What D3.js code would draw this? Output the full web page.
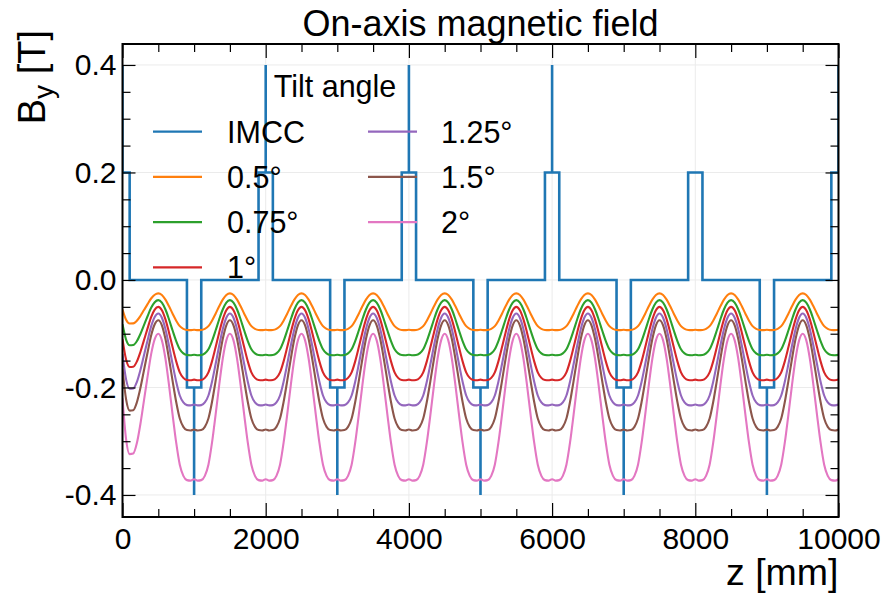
<!DOCTYPE html>
<html><head><meta charset="utf-8">
<script src="https://cdn.jsdelivr.net/npm/d3@7"></script>
<style>body{margin:0;background:#fff} text{font-family:"Liberation Sans",Arial,Helvetica,sans-serif;fill:#000}</style>
</head><body><svg id="c" width="887" height="596"></svg>
<script>
const title = "On-axis magnetic field";
const xLabel = "z [mm]";
const legendTitle = "Tilt angle";
const seriesNames = ["IMCC","0.5°","0.75°","1°","1.25°","1.5°","2°"];
const colors = ["#1f77b4","#ff7f0e","#2ca02c","#d62728","#9467bd","#8c564b","#e377c2"];
const xTicks = [0,2000,4000,6000,8000,10000];
const yTicks = [-0.4,-0.2,0.0,0.2,0.4];

// IMCC step profile (breakpoints)
const imccZ = [0,0,100,100,900,900,1000,1000,1000,1100,1100,1900,1900,2000,2000,2000,2100,2100,2900,2900,3000,3000,3000,3100,3100,3900,3900,4000,4000,4000,4100,4100,4900,4900,5000,5000,5000,5100,5100,5900,5900,6000,6000,6000,6100,6100,6900,6900,7000,7000,7000,7100,7100,7900,7900,8100,8100,8900,8900,9000,9000,9000,9100,9100,9900,9900,10000,10000];
const imccB = [0.4,0.2,0.2,0,0,-0.2,-0.2,-0.4,-0.2,-0.2,0,0,0.2,0.2,0.4,0.2,0.2,0,0,-0.2,-0.2,-0.4,-0.2,-0.2,0,0,0.2,0.2,0.4,0.2,0.2,0,0,-0.2,-0.2,-0.4,-0.2,-0.2,0,0,0.2,0.2,0.4,0.2,0.2,0,0,-0.2,-0.2,-0.4,-0.2,-0.2,0,0,0.2,0.2,0,0,-0.2,-0.2,-0.4,-0.2,-0.2,0,0,0.2,0.2,0.4];

// sample positions z = 0, 50, ..., 10000 mm
const zSamples = d3.range(0, 10001, 50);

const tilt050 = [
-0.0550,-0.0740,-0.0810,-0.0808,-0.0760,-0.0670,-0.0560,-0.0450,-0.0345,-0.0275,-0.0250,-0.0281,-0.0367,-0.0490,-0.0627,-0.0757,-0.0860,-0.0911,-0.0931,-0.0934,-0.0927,
-0.0934,-0.0931,-0.0911,-0.0860,-0.0757,-0.0627,-0.0490,-0.0367,-0.0281,-0.0250,-0.0281,-0.0367,-0.0490,-0.0627,-0.0757,-0.0860,-0.0911,-0.0931,-0.0934,-0.0927,
-0.0934,-0.0931,-0.0911,-0.0860,-0.0757,-0.0627,-0.0490,-0.0367,-0.0281,-0.0250,-0.0281,-0.0367,-0.0490,-0.0627,-0.0757,-0.0860,-0.0911,-0.0931,-0.0934,-0.0927,
-0.0934,-0.0931,-0.0911,-0.0860,-0.0757,-0.0627,-0.0490,-0.0367,-0.0281,-0.0250,-0.0281,-0.0367,-0.0490,-0.0627,-0.0757,-0.0860,-0.0911,-0.0931,-0.0934,-0.0927,
-0.0934,-0.0931,-0.0911,-0.0860,-0.0757,-0.0627,-0.0490,-0.0367,-0.0281,-0.0250,-0.0281,-0.0367,-0.0490,-0.0627,-0.0757,-0.0860,-0.0911,-0.0931,-0.0934,-0.0927,
-0.0934,-0.0931,-0.0911,-0.0860,-0.0757,-0.0627,-0.0490,-0.0367,-0.0281,-0.0250,-0.0281,-0.0367,-0.0490,-0.0627,-0.0757,-0.0860,-0.0911,-0.0931,-0.0934,-0.0927,
-0.0934,-0.0931,-0.0911,-0.0860,-0.0757,-0.0627,-0.0490,-0.0367,-0.0281,-0.0250,-0.0281,-0.0367,-0.0490,-0.0627,-0.0757,-0.0860,-0.0911,-0.0931,-0.0934,-0.0927,
-0.0934,-0.0931,-0.0911,-0.0860,-0.0757,-0.0627,-0.0490,-0.0367,-0.0281,-0.0250,-0.0281,-0.0367,-0.0490,-0.0627,-0.0757,-0.0860,-0.0911,-0.0931,-0.0934,-0.0927,
-0.0934,-0.0931,-0.0911,-0.0860,-0.0757,-0.0627,-0.0490,-0.0367,-0.0281,-0.0250,-0.0281,-0.0367,-0.0490,-0.0627,-0.0757,-0.0860,-0.0911,-0.0931,-0.0934,-0.0927,
-0.0934,-0.0931,-0.0911,-0.0860,-0.0757,-0.0627,-0.0490,-0.0367,-0.0281,-0.0250,-0.0281,-0.0367,-0.0490,-0.0627,-0.0757,-0.0860,-0.0911,-0.0931,-0.0934,-0.0927];

const tilt075 = [
-0.0825,-0.1110,-0.1215,-0.1211,-0.1140,-0.1005,-0.0840,-0.0675,-0.0518,-0.0413,-0.0375,-0.0422,-0.0550,-0.0735,-0.0941,-0.1136,-0.1289,-0.1367,-0.1397,-0.1400,-0.1391,
-0.1400,-0.1397,-0.1367,-0.1289,-0.1136,-0.0941,-0.0735,-0.0550,-0.0422,-0.0375,-0.0422,-0.0550,-0.0735,-0.0941,-0.1136,-0.1289,-0.1367,-0.1397,-0.1400,-0.1391,
-0.1400,-0.1397,-0.1367,-0.1289,-0.1136,-0.0941,-0.0735,-0.0550,-0.0422,-0.0375,-0.0422,-0.0550,-0.0735,-0.0941,-0.1136,-0.1289,-0.1367,-0.1397,-0.1400,-0.1391,
-0.1400,-0.1397,-0.1367,-0.1289,-0.1136,-0.0941,-0.0735,-0.0550,-0.0422,-0.0375,-0.0422,-0.0550,-0.0735,-0.0941,-0.1136,-0.1289,-0.1367,-0.1397,-0.1400,-0.1391,
-0.1400,-0.1397,-0.1367,-0.1289,-0.1136,-0.0941,-0.0735,-0.0550,-0.0422,-0.0375,-0.0422,-0.0550,-0.0735,-0.0941,-0.1136,-0.1289,-0.1367,-0.1397,-0.1400,-0.1391,
-0.1400,-0.1397,-0.1367,-0.1289,-0.1136,-0.0941,-0.0735,-0.0550,-0.0422,-0.0375,-0.0422,-0.0550,-0.0735,-0.0941,-0.1136,-0.1289,-0.1367,-0.1397,-0.1400,-0.1391,
-0.1400,-0.1397,-0.1367,-0.1289,-0.1136,-0.0941,-0.0735,-0.0550,-0.0422,-0.0375,-0.0422,-0.0550,-0.0735,-0.0941,-0.1136,-0.1289,-0.1367,-0.1397,-0.1400,-0.1391,
-0.1400,-0.1397,-0.1367,-0.1289,-0.1136,-0.0941,-0.0735,-0.0550,-0.0422,-0.0375,-0.0422,-0.0550,-0.0735,-0.0941,-0.1136,-0.1289,-0.1367,-0.1397,-0.1400,-0.1391,
-0.1400,-0.1397,-0.1367,-0.1289,-0.1136,-0.0941,-0.0735,-0.0550,-0.0422,-0.0375,-0.0422,-0.0550,-0.0735,-0.0941,-0.1136,-0.1289,-0.1367,-0.1397,-0.1400,-0.1391,
-0.1400,-0.1397,-0.1367,-0.1289,-0.1136,-0.0941,-0.0735,-0.0550,-0.0422,-0.0375,-0.0422,-0.0550,-0.0735,-0.0941,-0.1136,-0.1289,-0.1367,-0.1397,-0.1400,-0.1391];

const tilt100 = [
-0.1100,-0.1480,-0.1620,-0.1615,-0.1520,-0.1340,-0.1120,-0.0900,-0.0690,-0.0550,-0.0500,-0.0562,-0.0733,-0.0980,-0.1254,-0.1514,-0.1719,-0.1822,-0.1862,-0.1867,-0.1854,
-0.1867,-0.1862,-0.1822,-0.1719,-0.1514,-0.1254,-0.0980,-0.0733,-0.0562,-0.0500,-0.0562,-0.0733,-0.0980,-0.1254,-0.1514,-0.1719,-0.1822,-0.1862,-0.1867,-0.1854,
-0.1867,-0.1862,-0.1822,-0.1719,-0.1514,-0.1254,-0.0980,-0.0733,-0.0562,-0.0500,-0.0562,-0.0733,-0.0980,-0.1254,-0.1514,-0.1719,-0.1822,-0.1862,-0.1867,-0.1854,
-0.1867,-0.1862,-0.1822,-0.1719,-0.1514,-0.1254,-0.0980,-0.0733,-0.0562,-0.0500,-0.0562,-0.0733,-0.0980,-0.1254,-0.1514,-0.1719,-0.1822,-0.1862,-0.1867,-0.1854,
-0.1867,-0.1862,-0.1822,-0.1719,-0.1514,-0.1254,-0.0980,-0.0733,-0.0562,-0.0500,-0.0562,-0.0733,-0.0980,-0.1254,-0.1514,-0.1719,-0.1822,-0.1862,-0.1867,-0.1854,
-0.1867,-0.1862,-0.1822,-0.1719,-0.1514,-0.1254,-0.0980,-0.0733,-0.0562,-0.0500,-0.0562,-0.0733,-0.0980,-0.1254,-0.1514,-0.1719,-0.1822,-0.1862,-0.1867,-0.1854,
-0.1867,-0.1862,-0.1822,-0.1719,-0.1514,-0.1254,-0.0980,-0.0733,-0.0562,-0.0500,-0.0562,-0.0733,-0.0980,-0.1254,-0.1514,-0.1719,-0.1822,-0.1862,-0.1867,-0.1854,
-0.1867,-0.1862,-0.1822,-0.1719,-0.1514,-0.1254,-0.0980,-0.0733,-0.0562,-0.0500,-0.0562,-0.0733,-0.0980,-0.1254,-0.1514,-0.1719,-0.1822,-0.1862,-0.1867,-0.1854,
-0.1867,-0.1862,-0.1822,-0.1719,-0.1514,-0.1254,-0.0980,-0.0733,-0.0562,-0.0500,-0.0562,-0.0733,-0.0980,-0.1254,-0.1514,-0.1719,-0.1822,-0.1862,-0.1867,-0.1854,
-0.1867,-0.1862,-0.1822,-0.1719,-0.1514,-0.1254,-0.0980,-0.0733,-0.0562,-0.0500,-0.0562,-0.0733,-0.0980,-0.1254,-0.1514,-0.1719,-0.1822,-0.1862,-0.1867,-0.1854];

const tilt125 = [
-0.1375,-0.1850,-0.2025,-0.2019,-0.1900,-0.1675,-0.1400,-0.1125,-0.0863,-0.0688,-0.0625,-0.0703,-0.0916,-0.1225,-0.1568,-0.1893,-0.2149,-0.2278,-0.2328,-0.2334,-0.2318,
-0.2334,-0.2328,-0.2278,-0.2149,-0.1893,-0.1568,-0.1225,-0.0916,-0.0703,-0.0625,-0.0703,-0.0916,-0.1225,-0.1568,-0.1893,-0.2149,-0.2278,-0.2328,-0.2334,-0.2318,
-0.2334,-0.2328,-0.2278,-0.2149,-0.1893,-0.1568,-0.1225,-0.0916,-0.0703,-0.0625,-0.0703,-0.0916,-0.1225,-0.1568,-0.1893,-0.2149,-0.2278,-0.2328,-0.2334,-0.2318,
-0.2334,-0.2328,-0.2278,-0.2149,-0.1893,-0.1568,-0.1225,-0.0916,-0.0703,-0.0625,-0.0703,-0.0916,-0.1225,-0.1568,-0.1893,-0.2149,-0.2278,-0.2328,-0.2334,-0.2318,
-0.2334,-0.2328,-0.2278,-0.2149,-0.1893,-0.1568,-0.1225,-0.0916,-0.0703,-0.0625,-0.0703,-0.0916,-0.1225,-0.1568,-0.1893,-0.2149,-0.2278,-0.2328,-0.2334,-0.2318,
-0.2334,-0.2328,-0.2278,-0.2149,-0.1893,-0.1568,-0.1225,-0.0916,-0.0703,-0.0625,-0.0703,-0.0916,-0.1225,-0.1568,-0.1893,-0.2149,-0.2278,-0.2328,-0.2334,-0.2318,
-0.2334,-0.2328,-0.2278,-0.2149,-0.1893,-0.1568,-0.1225,-0.0916,-0.0703,-0.0625,-0.0703,-0.0916,-0.1225,-0.1568,-0.1893,-0.2149,-0.2278,-0.2328,-0.2334,-0.2318,
-0.2334,-0.2328,-0.2278,-0.2149,-0.1893,-0.1568,-0.1225,-0.0916,-0.0703,-0.0625,-0.0703,-0.0916,-0.1225,-0.1568,-0.1893,-0.2149,-0.2278,-0.2328,-0.2334,-0.2318,
-0.2334,-0.2328,-0.2278,-0.2149,-0.1893,-0.1568,-0.1225,-0.0916,-0.0703,-0.0625,-0.0703,-0.0916,-0.1225,-0.1568,-0.1893,-0.2149,-0.2278,-0.2328,-0.2334,-0.2318,
-0.2334,-0.2328,-0.2278,-0.2149,-0.1893,-0.1568,-0.1225,-0.0916,-0.0703,-0.0625,-0.0703,-0.0916,-0.1225,-0.1568,-0.1893,-0.2149,-0.2278,-0.2328,-0.2334,-0.2318];

const tilt150 = [
-0.1650,-0.2220,-0.2430,-0.2423,-0.2280,-0.2010,-0.1680,-0.1350,-0.1035,-0.0825,-0.0750,-0.0843,-0.1100,-0.1470,-0.1881,-0.2271,-0.2579,-0.2733,-0.2793,-0.2801,-0.2781,
-0.2801,-0.2793,-0.2733,-0.2579,-0.2271,-0.1881,-0.1470,-0.1100,-0.0843,-0.0750,-0.0843,-0.1100,-0.1470,-0.1881,-0.2271,-0.2579,-0.2733,-0.2793,-0.2801,-0.2781,
-0.2801,-0.2793,-0.2733,-0.2579,-0.2271,-0.1881,-0.1470,-0.1100,-0.0843,-0.0750,-0.0843,-0.1100,-0.1470,-0.1881,-0.2271,-0.2579,-0.2733,-0.2793,-0.2801,-0.2781,
-0.2801,-0.2793,-0.2733,-0.2579,-0.2271,-0.1881,-0.1470,-0.1100,-0.0843,-0.0750,-0.0843,-0.1100,-0.1470,-0.1881,-0.2271,-0.2579,-0.2733,-0.2793,-0.2801,-0.2781,
-0.2801,-0.2793,-0.2733,-0.2579,-0.2271,-0.1881,-0.1470,-0.1100,-0.0843,-0.0750,-0.0843,-0.1100,-0.1470,-0.1881,-0.2271,-0.2579,-0.2733,-0.2793,-0.2801,-0.2781,
-0.2801,-0.2793,-0.2733,-0.2579,-0.2271,-0.1881,-0.1470,-0.1100,-0.0843,-0.0750,-0.0843,-0.1100,-0.1470,-0.1881,-0.2271,-0.2579,-0.2733,-0.2793,-0.2801,-0.2781,
-0.2801,-0.2793,-0.2733,-0.2579,-0.2271,-0.1881,-0.1470,-0.1100,-0.0843,-0.0750,-0.0843,-0.1100,-0.1470,-0.1881,-0.2271,-0.2579,-0.2733,-0.2793,-0.2801,-0.2781,
-0.2801,-0.2793,-0.2733,-0.2579,-0.2271,-0.1881,-0.1470,-0.1100,-0.0843,-0.0750,-0.0843,-0.1100,-0.1470,-0.1881,-0.2271,-0.2579,-0.2733,-0.2793,-0.2801,-0.2781,
-0.2801,-0.2793,-0.2733,-0.2579,-0.2271,-0.1881,-0.1470,-0.1100,-0.0843,-0.0750,-0.0843,-0.1100,-0.1470,-0.1881,-0.2271,-0.2579,-0.2733,-0.2793,-0.2801,-0.2781,
-0.2801,-0.2793,-0.2733,-0.2579,-0.2271,-0.1881,-0.1470,-0.1100,-0.0843,-0.0750,-0.0843,-0.1100,-0.1470,-0.1881,-0.2271,-0.2579,-0.2733,-0.2793,-0.2801,-0.2781];

const tilt200 = [
-0.2200,-0.2960,-0.3240,-0.3230,-0.3040,-0.2680,-0.2240,-0.1800,-0.1380,-0.1100,-0.1000,-0.1124,-0.1466,-0.1960,-0.2508,-0.3028,-0.3438,-0.3644,-0.3724,-0.3734,-0.3708,
-0.3734,-0.3724,-0.3644,-0.3438,-0.3028,-0.2508,-0.1960,-0.1466,-0.1124,-0.1000,-0.1124,-0.1466,-0.1960,-0.2508,-0.3028,-0.3438,-0.3644,-0.3724,-0.3734,-0.3708,
-0.3734,-0.3724,-0.3644,-0.3438,-0.3028,-0.2508,-0.1960,-0.1466,-0.1124,-0.1000,-0.1124,-0.1466,-0.1960,-0.2508,-0.3028,-0.3438,-0.3644,-0.3724,-0.3734,-0.3708,
-0.3734,-0.3724,-0.3644,-0.3438,-0.3028,-0.2508,-0.1960,-0.1466,-0.1124,-0.1000,-0.1124,-0.1466,-0.1960,-0.2508,-0.3028,-0.3438,-0.3644,-0.3724,-0.3734,-0.3708,
-0.3734,-0.3724,-0.3644,-0.3438,-0.3028,-0.2508,-0.1960,-0.1466,-0.1124,-0.1000,-0.1124,-0.1466,-0.1960,-0.2508,-0.3028,-0.3438,-0.3644,-0.3724,-0.3734,-0.3708,
-0.3734,-0.3724,-0.3644,-0.3438,-0.3028,-0.2508,-0.1960,-0.1466,-0.1124,-0.1000,-0.1124,-0.1466,-0.1960,-0.2508,-0.3028,-0.3438,-0.3644,-0.3724,-0.3734,-0.3708,
-0.3734,-0.3724,-0.3644,-0.3438,-0.3028,-0.2508,-0.1960,-0.1466,-0.1124,-0.1000,-0.1124,-0.1466,-0.1960,-0.2508,-0.3028,-0.3438,-0.3644,-0.3724,-0.3734,-0.3708,
-0.3734,-0.3724,-0.3644,-0.3438,-0.3028,-0.2508,-0.1960,-0.1466,-0.1124,-0.1000,-0.1124,-0.1466,-0.1960,-0.2508,-0.3028,-0.3438,-0.3644,-0.3724,-0.3734,-0.3708,
-0.3734,-0.3724,-0.3644,-0.3438,-0.3028,-0.2508,-0.1960,-0.1466,-0.1124,-0.1000,-0.1124,-0.1466,-0.1960,-0.2508,-0.3028,-0.3438,-0.3644,-0.3724,-0.3734,-0.3708,
-0.3734,-0.3724,-0.3644,-0.3438,-0.3028,-0.2508,-0.1960,-0.1466,-0.1124,-0.1000,-0.1124,-0.1466,-0.1960,-0.2508,-0.3028,-0.3438,-0.3644,-0.3724,-0.3734,-0.3708];

const tiltSeries = [tilt050, tilt075, tilt100, tilt125, tilt150, tilt200];

// ---------- drawing ----------
const svg = d3.select("#c");
const W = 887, H = 596;
const m = {left:122.5, right:838.5, top:44, bottom:517};
const x = d3.scaleLinear().domain([0,10000]).range([m.left, m.right]);
const y = d3.scaleLinear().domain([-0.441,0.439]).range([m.bottom, m.top]);

svg.append("rect").attr("width",W).attr("height",H).attr("fill","#fff");

svg.append("defs").append("clipPath").attr("id","clip")
  .append("rect").attr("x",m.left).attr("y",m.top).attr("width",m.right-m.left).attr("height",m.bottom-m.top);

// grid
const grid = svg.append("g");
grid.selectAll("line.gx").data(xTicks).join("line")
  .attr("x1",d=>x(d)).attr("x2",d=>x(d)).attr("y1",m.top).attr("y2",m.bottom)
  .attr("stroke","#ebebeb").attr("stroke-width",1);
grid.selectAll("line.gy").data(yTicks).join("line")
  .attr("y1",d=>y(d)).attr("y2",d=>y(d)).attr("x1",m.left).attr("x2",m.right)
  .attr("stroke","#ebebeb").attr("stroke-width",1);

// data
const plot = svg.append("g").attr("clip-path","url(#clip)");
const imccLine = d3.line().x((d,i)=>x(imccZ[i])).y((d,i)=>y(imccB[i])).curve(d3.curveLinear);
plot.append("path").attr("d", imccLine(imccZ)).attr("fill","none")
  .attr("stroke",colors[0]).attr("stroke-width",2.6).attr("stroke-linejoin","miter");

const tiltLine = d3.line().x((d,i)=>x(zSamples[i])).y(d=>y(d)).curve(d3.curveMonotoneX);
tiltSeries.forEach((s,k)=>{
  plot.append("path").attr("d", tiltLine(s)).attr("fill","none")
    .attr("stroke",colors[k+1]).attr("stroke-width",2.1);
});

// axes (inward ticks)
const fmt = d => d.toFixed(1);
const minorX = d3.range(0,10001,500).filter(v=>v%2000!==0);
const minorY = d3.range(-8,9).map(v=>v*0.05).filter(v=>Math.abs(Math.round(v*100))%20!==0);

svg.append("g").attr("transform",`translate(0,${m.bottom})`)
  .call(d3.axisBottom(x).tickValues(xTicks).tickSize(-14).tickPadding(11).tickFormat(d3.format("d")));
svg.append("g").attr("transform",`translate(0,${m.top})`)
  .call(d3.axisTop(x).tickValues(xTicks).tickSize(-14).tickFormat(""));
svg.append("g").attr("transform",`translate(${m.left},0)`)
  .call(d3.axisLeft(y).tickValues(yTicks).tickSize(-13).tickPadding(6).tickFormat(fmt));
svg.append("g").attr("transform",`translate(${m.right},0)`)
  .call(d3.axisRight(y).tickValues(yTicks).tickSize(-13).tickFormat(""));
svg.append("g").attr("transform",`translate(0,${m.bottom})`).call(d3.axisBottom(x).tickValues(minorX).tickSize(-8).tickFormat(""));
svg.append("g").attr("transform",`translate(0,${m.top})`).call(d3.axisTop(x).tickValues(minorX).tickSize(-8).tickFormat(""));
svg.append("g").attr("transform",`translate(${m.left},0)`).call(d3.axisLeft(y).tickValues(minorY).tickSize(-8).tickFormat(""));
svg.append("g").attr("transform",`translate(${m.right},0)`).call(d3.axisRight(y).tickValues(minorY).tickSize(-8).tickFormat(""));
svg.selectAll(".domain").remove();
svg.selectAll(".tick line").attr("stroke","#000").attr("stroke-width",1.2);
svg.selectAll(".tick text").attr("font-size",30).attr("font-family","Liberation Sans, Arial, sans-serif").attr("fill","#000");

// frame
svg.append("rect").attr("x",m.left).attr("y",m.top).attr("width",m.right-m.left).attr("height",m.bottom-m.top)
  .attr("fill","none").attr("stroke","#000").attr("stroke-width",2);

// title & labels
svg.append("text").attr("x",(m.left+m.right)/2).attr("y",35.5).attr("text-anchor","middle")
  .attr("font-size",36).text(title);
svg.append("text").attr("x",m.right).attr("y",585).attr("text-anchor","end")
  .attr("font-size",37.5).text(xLabel);
const yl = svg.append("text").attr("transform","translate(45,30) rotate(-90)").attr("text-anchor","end").attr("font-size",38);
yl.append("tspan").text("B");
yl.append("tspan").attr("font-size",28).attr("dy",8).text("y");
yl.append("tspan").attr("dy",-8).text(" [T]");

// legend
const leg = svg.append("g");
leg.append("text").attr("x",335).attr("y",97).attr("text-anchor","middle").attr("font-size",30.5).text(legendTitle);
const rowY = [131.7,176.9,222.2,267.4];
const colX = [{h:153, t:227},{h:368, t:441}];
seriesNames.forEach((n,i)=>{
  const c = i<4?0:1, r = i<4?i:i-4;
  leg.append("line").attr("x1",colX[c].h).attr("x2",colX[c].h+49).attr("y1",rowY[r]).attr("y2",rowY[r])
    .attr("stroke",colors[i]).attr("stroke-width",2.2);
  leg.append("text").attr("x",colX[c].t).attr("y",rowY[r]+10.8).attr("font-size",30.5).text(n);
});
</script></body></html>
